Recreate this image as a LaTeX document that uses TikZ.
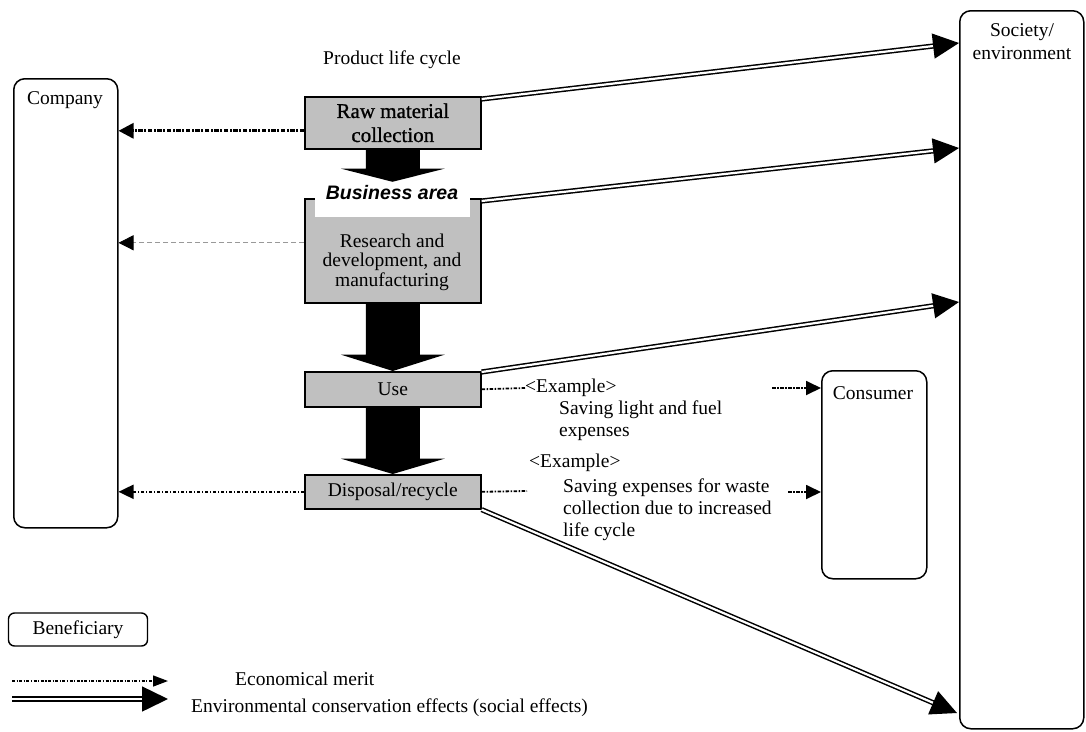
\documentclass[tikz,border=0pt]{standalone}
\usepackage{fontspec}
\setmainfont{Liberation Serif}
\setsansfont{Liberation Sans}
\usetikzlibrary{arrows.meta,calc}
\definecolor{boxgray}{HTML}{C0C0C0}
\newcommand{\blkarrow}[3]{\fill ($(#1)+(-27,0)$) -- ($(#1)+(-27,#3)$) -- ($(#1)+(-52,#3)$) -- (#2) -- ($(#1)+(52,#3)$) -- ($(#1)+(27,#3)$) -- ($(#1)+(27,0)$) -- cycle;}
\tikzset{
  bigbox/.style={draw, line width=1.5pt, rounded corners=11pt, inner sep=0pt, anchor=north west},
  graybox/.style={draw, line width=1.6pt, fill=boxgray, inner sep=0pt, minimum width=176pt, anchor=north west, align=center},
  txt/.style={inner sep=0pt},
  econ/.style={line width=1.8pt, dash pattern=on 3.5pt off 1.5pt on 1.5pt off 1.5pt, -{Triangle[length=15pt,width=14pt]}},
  econthick/.style={line width=3pt, dash pattern=on 4.5pt off 1.5pt on 2pt off 1.5pt, -{Triangle[length=15pt,width=15pt]}},
  econgray/.style={line width=0.7pt, draw=black!40, dash pattern=on 5pt off 3pt, -{Triangle[length=15pt,width=15pt,color=black]}},
  econline/.style={line width=1.8pt, dash pattern=on 3.5pt off 1.5pt on 1.5pt off 1.5pt},
  env/.style={double, double distance=2.2pt, line width=1.5pt, -{Triangle[length=26pt,width=25pt]}},
}
\begin{document}
\begin{tikzpicture}[x=1pt,y=-1pt, font=\fontsize{19.5}{22}\selectfont]
\useasboundingbox (0,0) rectangle (1086,731);

% beneficiary boxes
\node[bigbox, minimum width=104pt, minimum height=449pt] (company) at (13,78) {};
\node[txt] (companytxt) at (65,100) {Company};
\node[bigbox, minimum width=124pt, minimum height=718pt] (soc) at (959,10) {};
\node[txt, align=center, font=\fontsize{19.5}{23}\selectfont] (soctxt) at (1022,42) {Society/\\environment};
\node[bigbox, minimum width=105pt, minimum height=208pt] (consumer) at (821,370) {};
\node[txt] (constxt) at (873,393) {Consumer};

% life cycle
\node[txt] (plc) at (392,60) {Product life cycle};
\node[graybox, minimum height=52pt, font=\fontsize{21}{24}\selectfont\addfontfeature{FakeBold=1}] (raw) at (304,96) {Raw material\\collection};
\node[graybox, minimum height=104pt] (research) at (304,198) {};
\node[fill=white, inner sep=0pt, minimum width=155pt, minimum height=35pt] (bizbg) at (392.5,199.5) {};
\node[txt, font=\fontsize{19.5}{22}\sffamily\bfseries\itshape] (biz) at (392,193) {Business area};
\node[txt, align=center, font=\fontsize{19.5}{19.5}\selectfont] (restxt) at (392,262) {Research and\\development, and\\manufacturing};
\node[graybox, minimum height=35pt] (use) at (304,371) {Use};
\node[graybox, minimum height=34pt] (disp) at (304,474) {Disposal/recycle};

% block arrows
\blkarrow{raw.south}{bizbg.north}{19}
\blkarrow{research.south}{use.north}{51}
\blkarrow{use.south}{disp.north}{51}

% economical merit to company
\coordinate (r1) at ([yshift=-8pt]raw.west);
\draw[econthick] (r1) -- (r1 -| company.east);
\coordinate (r2) at ([yshift=8pt]research.west);
\draw[econgray] (r2) -- (r2 -| company.east);
\draw[econ] (disp.west) -- (disp.west -| company.east);

% examples to consumer
\node[txt, anchor=west] (ex1) at (525,388) {<Example>};
\node[txt, anchor=west, align=left] (ex1t) at (559,421) {Saving light and fuel\\expenses};
\draw[econline] (use.east) -- (ex1.west);
\coordinate (c1) at (772,388);
\draw[econ] (c1) -- (c1 -| consumer.west);

\node[txt, anchor=west] (ex2) at (529,463) {<Example>};
\node[txt, anchor=west, align=left] (ex2t) at (563,510) {Saving expenses for waste\\collection due to increased\\life cycle};
\coordinate (d1) at (527,491);
\draw[econline] (disp.east) -- (d1);
\coordinate (d2) at (788,492);
\draw[econ] (d2) -- (d2 -| consumer.west);

% environmental effects
\coordinate (s1) at (959,43);
\coordinate (s2) at (959,148);
\coordinate (s3) at (959,302);
\coordinate (s4) at (957,713);
\draw[env] ($(raw.north east)+(0,3)$) -- (s1);
\draw[env] ($(research.north east)+(0,3)$) -- (s2);
\draw[env] ($(use.north east)+(0,1)$) -- (s3);
\draw[env] (disp.south east) -- (s4);

% legend
\node[draw, line width=1.4pt, rounded corners=6pt, minimum width=139pt, minimum height=33pt, inner sep=0pt] (benef) at (78,629.5) {Beneficiary};
\coordinate (l1a) at (12,681);
\coordinate (l1b) at (168,681);
\draw[line width=1.4pt, dash pattern=on 3pt off 1.5pt on 1.2pt off 1.5pt, -{Triangle[length=15pt,width=11pt]}] (l1a) -- (l1b);
\node[txt, anchor=west] (leg1) at (235,679) {Economical merit};
\coordinate (l2a) at (12,699);
\coordinate (l2b) at (168,699);
\draw[env] (l2a) -- (l2b);
\node[txt, anchor=west] (leg2) at (191,708) {Environmental conservation effects (social effects)};
\end{tikzpicture}
\end{document}
